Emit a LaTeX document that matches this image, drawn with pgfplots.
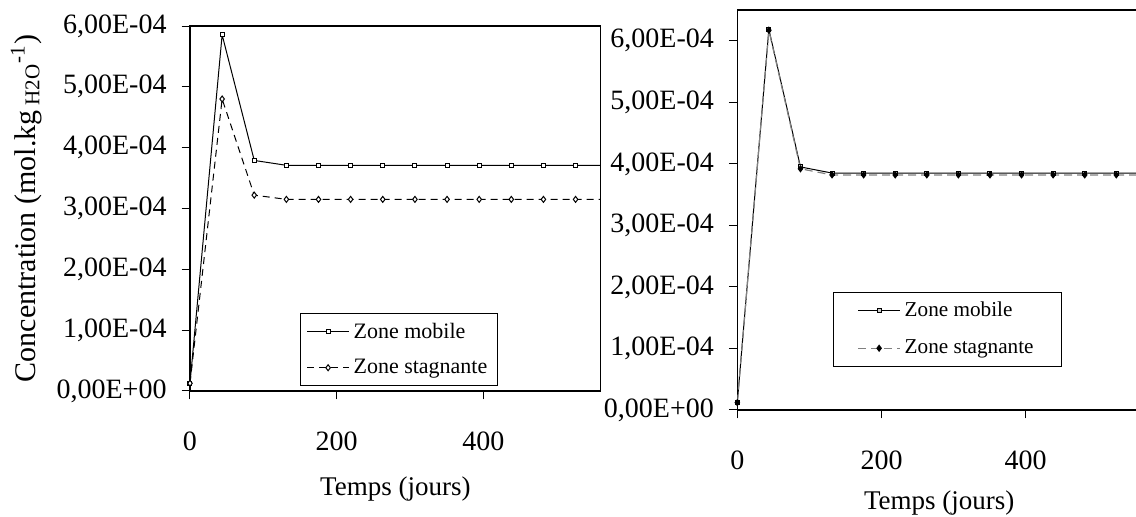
\documentclass[border=0pt]{standalone}
\usepackage{fontspec}
\setmainfont{Liberation Serif}
\usepackage{pgfplots}
\pgfplotsset{compat=1.18}

% 1 px of the reference = 0.5 pt here
\pgfplotsset{
  conc/.style={
    scale only axis,
    xmin=0, xmax=560, ymin=0,
    xtick={0,200,400},
    ytick={0,1e-4,2e-4,3e-4,4e-4,5e-4,6e-4},
    yticklabels={{0,00E+00},{1,00E-04},{2,00E-04},{3,00E-04},{4,00E-04},{5,00E-04},{6,00E-04}},
    scaled y ticks=false,
    tick pos=left, tick align=outside, major tick length=4.2pt,
    tick style={black, line width=0.5pt},
    axis line style={line width=0.6pt},
    /pgf/number format/assume math mode=true,
    tick label style={font=\fontsize{14}{16}\selectfont},
    xticklabel style={yshift=-12.5pt},
    yticklabel style={xshift=-4pt},
    xlabel={Temps (jours)},
    legend cell align=left,
    legend image code/.code={\draw[mark repeat=2,mark phase=2,##1] plot coordinates {(0pt,0pt) (10.5pt,0pt) (21pt,0pt)};},
  },
  mob/.style={black, line width=0.5pt, mark=square*, mark size=1pt, mark options={solid, fill=white}},
}

\begin{document}
\begin{tikzpicture}[x=1pt,y=1pt]
\path[use as bounding box] (0,0) rectangle (568,258.5);

\begin{axis}[conc,
  at={(95pt,63pt)}, anchor=south west,
  width=205.4pt, height=182.5pt, ymax=6e-4,
  xlabel style={at={(axis description cs:0.5,0)}, anchor=base, yshift=-52.5pt, font=\fontsize{13.5}{16}\selectfont},
  ylabel={Concentration (mol.kg\textsubscript{ H2O}\textsuperscript{-1})},
  ylabel style={at={(axis description cs:-0.3773,0.5)}, anchor=base, font=\fontsize{15}{18}\selectfont},
  legend style={at={(axis description cs:0.268,0.213)}, anchor=north west,
    draw=black, line width=0.5pt, font=\fontsize{11}{13}\selectfont,
    inner xsep=3pt, inner ysep=2.5pt, row sep=5pt},
]
\addplot[mob] coordinates {
(0,1.27e-5) (43.8,5.855e-4) (87.6,3.79e-4) (131.4,3.71e-4) (175.2,3.71e-4)
(219,3.71e-4) (262.8,3.71e-4) (306.6,3.71e-4) (350.4,3.71e-4) (394.2,3.71e-4)
(438,3.71e-4) (481.8,3.71e-4) (525.6,3.71e-4) (569.4,3.71e-4)};
\addlegendentry{Zone mobile}
\addplot[black, line width=0.5pt, dash pattern=on 3.5pt off 2.5pt, mark=diamond*, mark size=1.5pt, mark options={solid, fill=white}] coordinates {
(0,1.27e-5) (43.8,4.80e-4) (87.6,3.22e-4) (131.4,3.15e-4) (175.2,3.15e-4)
(219,3.15e-4) (262.8,3.15e-4) (306.6,3.15e-4) (350.4,3.15e-4) (394.2,3.15e-4)
(438,3.15e-4) (481.8,3.15e-4) (525.6,3.15e-4) (569.4,3.15e-4)};
\addlegendentry{Zone stagnante}
\end{axis}

\begin{axis}[conc,
  at={(368.65pt,53.5pt)}, anchor=south west,
  width=201.9pt, height=200pt, ymax=6.5e-4,
  xlabel style={at={(axis description cs:0.5,0)}, anchor=base, yshift=-49.8pt, font=\fontsize{13.5}{16}\selectfont},
  legend style={at={(axis description cs:0.237,0.296)}, anchor=north west,
    draw=black, line width=0.5pt, font=\fontsize{10.6}{13}\selectfont,
    inner xsep=12pt, inner ysep=3pt, row sep=6pt},
]
\addplot[mob, mark options={solid, fill=gray!40}] coordinates {
(0,1.2e-5) (43.8,6.185e-4) (87.6,3.95e-4) (131.4,3.85e-4) (175.2,3.85e-4)
(219,3.85e-4) (262.8,3.85e-4) (306.6,3.85e-4) (350.4,3.85e-4) (394.2,3.85e-4)
(438,3.85e-4) (481.8,3.85e-4) (525.6,3.85e-4) (569.4,3.85e-4)};
\addlegendentry{Zone mobile}
\addplot[gray, line width=0.6pt, dash pattern=on 4pt off 2.5pt, mark=diamond*, mark size=1.4pt, mark options={solid, fill=black, draw=black}] coordinates {
(0,1.2e-5) (43.8,6.17e-4) (87.6,3.92e-4) (131.4,3.82e-4) (175.2,3.82e-4)
(219,3.82e-4) (262.8,3.82e-4) (306.6,3.82e-4) (350.4,3.82e-4) (394.2,3.82e-4)
(438,3.82e-4) (481.8,3.82e-4) (525.6,3.82e-4) (569.4,3.82e-4)};
\addlegendentry{Zone stagnante}
\end{axis}
\end{tikzpicture}
\end{document}
